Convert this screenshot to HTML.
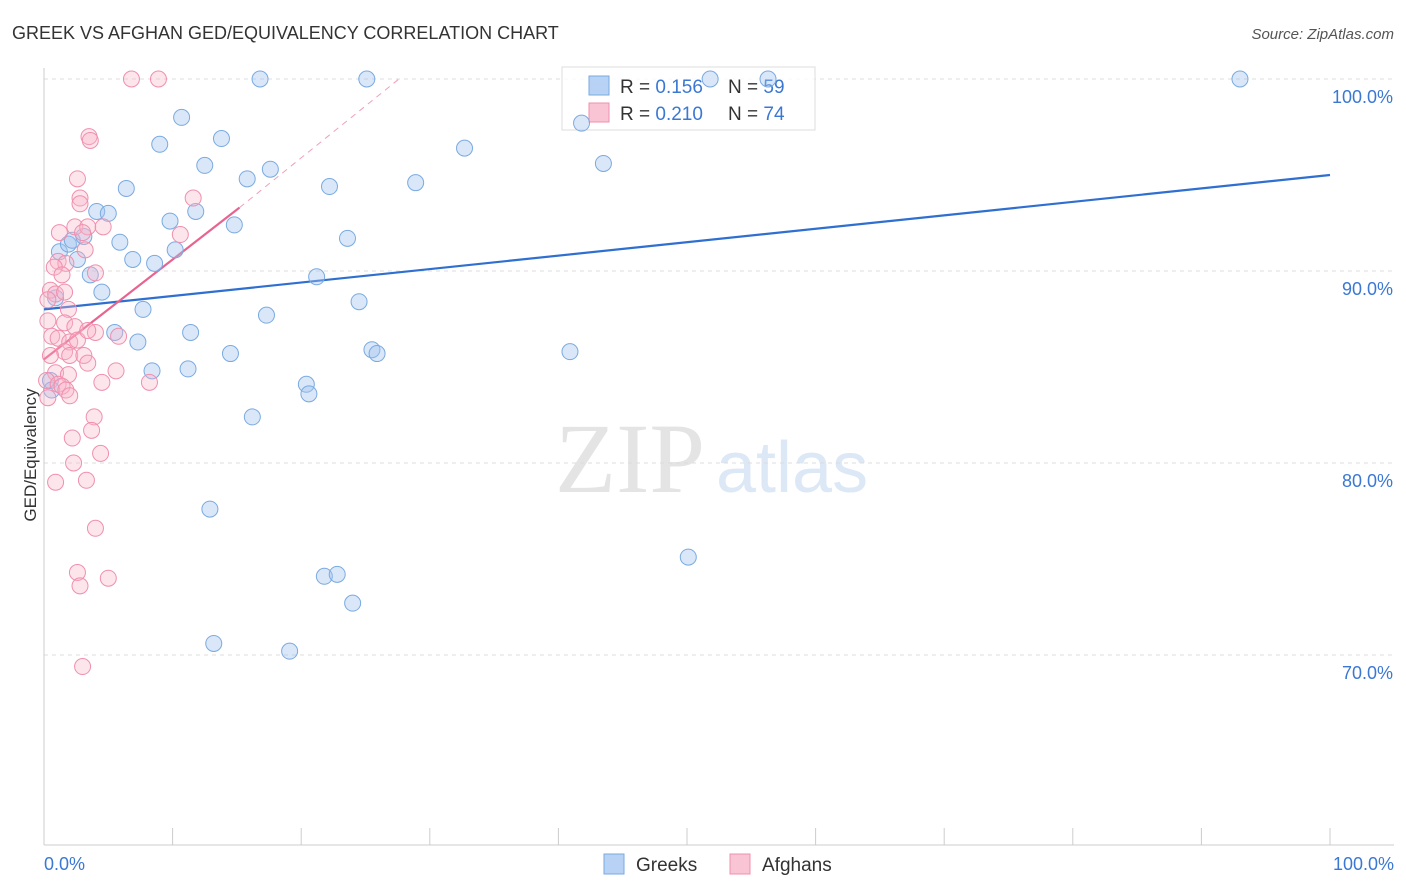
<!DOCTYPE html>
<html><head><meta charset="utf-8">
<style>
body{margin:0;background:#fff;font-family:"Liberation Sans",sans-serif;}
#wrap{position:relative;width:1406px;height:892px;overflow:hidden;}
</style></head>
<body>
<div id="wrap">
<svg id="chart" width="1406" height="892">
<text x="12" y="39" font-size="18" fill="#333">GREEK VS AFGHAN GED/EQUIVALENCY CORRELATION CHART</text>
<text x="1394" y="39" font-size="15" fill="#555" font-style="italic" text-anchor="end">Source: ZipAtlas.com</text>
<text x="36" y="455" font-size="17" fill="#333" transform="rotate(-90 36 455)" text-anchor="middle">GED/Equivalency</text>
<text x="555" y="492" font-size="100" fill="#e4e4e4" font-family="Liberation Serif,serif">ZIP</text>
<text x="716" y="492" font-size="72" fill="#dde8f6">atlas</text>
<g id="grid"></g><g id="axes"></g>
<g>
<rect x="562" y="67" width="253" height="63" fill="#fff" fill-opacity="0.85" stroke="#ddd"/>
<rect x="589" y="76" width="20" height="19" fill="#b7d2f5" stroke="#7aaae0"/>
<rect x="589" y="103" width="20" height="19" fill="#f9c4d4" stroke="#f08fae"/>
<text x="620" y="93" font-size="19" fill="#333">R = <tspan fill="#3a78d4">0.156</tspan></text>
<text x="728" y="93" font-size="19" fill="#333">N = <tspan fill="#3a78d4">59</tspan></text>
<text x="620" y="120" font-size="19" fill="#333">R = <tspan fill="#3a78d4">0.210</tspan></text>
<text x="728" y="120" font-size="19" fill="#333">N = <tspan fill="#3a78d4">74</tspan></text>
</g>
<g id="lines"></g><g id="pts"></g>
<g>
<rect x="604" y="854" width="20" height="20" fill="#b7d2f5" stroke="#7aaae0"/>
<text x="636" y="871" font-size="19" fill="#333">Greeks</text>
<rect x="730" y="854" width="20" height="20" fill="#f9c4d4" stroke="#f08fae"/>
<text x="762" y="871" font-size="19" fill="#333">Afghans</text>
</g>
</svg>
</div>
<script>
const yTicks=[100,90,80,70];
const yTickLabels=["100.0%","90.0%","80.0%","70.0%"];
const xTickLabels=["0.0%","100.0%"];
const greekX=[16.8,25.1,51.8,56.3,93.0,10.7,13.8,9.0,32.7,43.5,41.8,12.5,17.6,15.8,22.2,28.9,6.4,4.1,5.0,9.8,11.8,14.8,1.2,1.9,2.2,3.1,5.9,10.2,6.9,8.6,2.6,23.6,3.6,21.2,4.5,0.9,7.7,24.5,17.3,11.4,5.5,7.3,14.5,25.5,25.9,40.9,8.4,11.2,20.4,20.6,16.2,12.9,50.1,21.8,22.8,24.0,13.2,19.1,0.5,0.6];
const greekY=[100,100,100,100,100,98.0,96.9,96.6,96.4,95.6,97.7,95.5,95.3,94.8,94.4,94.6,94.3,93.1,93.0,92.6,93.1,92.4,91.0,91.4,91.6,91.8,91.5,91.1,90.6,90.4,90.6,91.7,89.8,89.7,88.9,88.6,88.0,88.4,87.7,86.8,86.8,86.3,85.7,85.9,85.7,85.8,84.8,84.9,84.1,83.6,82.4,77.6,75.1,74.1,74.2,72.7,70.6,70.2,84.3,83.8];
const afghanX=[6.8,8.9,3.5,3.6,2.6,2.8,2.8,11.6,2.4,3.4,4.6,1.2,3.0,10.6,3.2,1.1,1.7,0.8,4.0,1.4,0.5,0.9,1.6,0.3,1.9,0.3,1.6,2.4,0.6,1.1,4.0,5.8,2.0,2.6,3.4,1.6,2.0,3.1,0.5,3.4,5.6,0.9,1.9,0.2,1.1,1.4,4.5,8.2,1.7,2.0,0.3,3.9,3.7,2.2,4.4,2.3,0.9,3.3,4.0,2.6,5.0,2.8,3.0];
const afghanY=[100,100,97.0,96.8,94.8,93.8,93.5,93.8,92.3,92.3,92.3,92.0,92.0,91.9,91.1,90.5,90.4,90.2,89.9,89.8,89.0,88.8,88.9,88.5,88.0,87.4,87.3,87.1,86.6,86.5,86.8,86.6,86.3,86.4,86.9,85.8,85.6,85.6,85.6,85.2,84.8,84.7,84.6,84.3,84.1,84.0,84.2,84.2,83.8,83.5,83.4,82.4,81.7,81.3,80.5,80.0,79.0,79.1,76.6,74.3,74.0,73.6,69.4];
const greekTrend=[88.0,95.0];
const afghanTrend=[85.4,93.3,100];
const afghanTrendX=[0,15.2,27.6];
const NS="http://www.w3.org/2000/svg";
const xs=v=>44+v*12.86, ys=v=>79+(100-v)*19.2;
function mk(p,t,a){const e=document.createElementNS(NS,t);for(const k in a)e.setAttribute(k,a[k]);document.getElementById(p).appendChild(e);return e;}
yTicks.forEach((t,i)=>{
 const g=mk('grid','line',{x1:44,x2:1394,y1:ys(t),y2:ys(t),stroke:'#ddd','stroke-dasharray':'4,4'});
 
 
 const l=mk('grid','text',{x:1393,y:ys(t)+24,'font-size':18,fill:'#3a78d4','text-anchor':'end'});l.textContent=yTickLabels[i];
 
 
});
let ax=mk('axes','line',{x1:44,x2:44,y1:68,y2:845,stroke:'#ccc'});


ax=mk('axes','line',{x1:44,x2:1394,y1:845,y2:845,stroke:'#ccc'});


for(let i=0;i<=10;i++){const t=mk('axes','line',{x1:xs(i*10),x2:xs(i*10),y1:828,y2:845,stroke:'#ccc'});
 
 }
[[0,'start',44],[100,'end',1394]].forEach((d,i)=>{const t=mk('axes','text',{x:d[2],y:870,'font-size':18,fill:'#3a78d4','text-anchor':d[1]});t.textContent=xTickLabels[i];
 
 });
greekX.forEach((x,i)=>{const c=mk('pts','circle',{cx:xs(x),cy:ys(greekY[i]),r:8,fill:'rgba(160,196,240,0.4)',stroke:'#7aaae0','stroke-width':1});
 
 });
afghanX.forEach((x,i)=>{const c=mk('pts','circle',{cx:xs(x),cy:ys(afghanY[i]),r:8,fill:'rgba(248,180,200,0.35)',stroke:'#f08fae','stroke-width':1});
 
 });
let l1=mk('lines','line',{x1:xs(0),y1:ys(greekTrend[0]),x2:xs(100),y2:ys(greekTrend[1]),stroke:'#2f6fd0','stroke-width':2.2});


let l2=mk('lines','line',{x1:xs(afghanTrendX[0]),y1:ys(afghanTrend[0]),x2:xs(afghanTrendX[1]),y2:ys(afghanTrend[1]),stroke:'#e8638f','stroke-width':2.2});


let l3=mk('lines','line',{x1:xs(afghanTrendX[1]),y1:ys(afghanTrend[1]),x2:xs(afghanTrendX[2]),y2:ys(afghanTrend[2]),stroke:'#f0a0b8','stroke-width':1,'stroke-dasharray':'6,5'});


</script>
</body></html>
